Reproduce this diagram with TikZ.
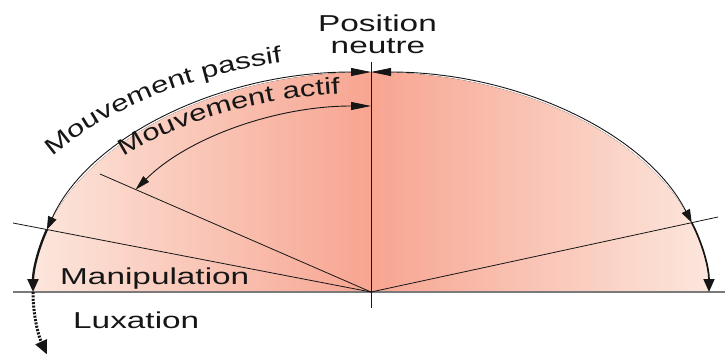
\documentclass[tikz,border=0pt]{standalone}
\usepackage{fontspec}
\setmainfont{Liberation Sans}
\newfontfamily\wideFont[FakeStretch=1.45]{Liberation Sans}
\newfontfamily\arcFont[FakeStretch=1.35]{Liberation Sans}
\usetikzlibrary{arrows.meta,decorations.text}
\definecolor{jtInk}{HTML}{161616}
\definecolor{jtSalmon}{HTML}{F7A591}
\definecolor{jtPale}{HTML}{FCE6DC}
\definecolor{jtBase}{HTML}{7A7A7A}
\tikzset{
 joint/.style={line cap=butt,line join=round,text=jtInk},
 lbl/.style={font=\wideFont\fontsize{23}{25}\selectfont,inner sep=0pt,text=jtInk},
 rim/.style={draw=jtInk,line width=.9pt},
 limit/.style={draw=jtInk,line width=.8pt},
 axisline/.style={draw=jtInk,line width=1pt},
 baseline/.style={draw=jtBase,line width=1.3pt},
 tipH/.tip={Triangle[length=20pt,width=8pt]},
 tipV/.tip={Triangle[length=13pt,width=9pt]},
 forced/.style={draw=jtInk,line width=2.3pt,-{Triangle[length=13pt,width=11pt]}},
 luxed/.style={draw=jtInk,line width=3pt,dash pattern=on 2pt off 1.4pt,-{Triangle[length=14pt,width=12pt]}},
 arctext/.style={decorate,decoration={text along path,text color=jtInk,text={|\arcFont\fontsize{23}{25}\selectfont|#1}}}
}

\begin{document}
\begin{tikzpicture}[joint,x=1pt,y=1pt]
 \useasboundingbox (-371,-62) rectangle (354,292);
 \coordinate (O) at (0,0);
 \coordinate (outerTop) at (90:338pt and 220pt);
 \coordinate (innerTop) at (90:282pt and 186pt);
 \coordinate (outerL) at (180:338pt and 220pt);
 \coordinate (outerR) at (0:338pt and 220pt);
 \coordinate (passX) at (163.5:338pt and 220pt);
 \coordinate (actX) at (146.6:282pt and 186pt);
 \coordinate (rightX) at (18.4:338pt and 220pt);
 \coordinate (passEnd) at (-358,69);
 \coordinate (actEnd) at (-271,118);
 \coordinate (rightEnd) at (347,75);
 \coordinate (axisTop) at (0,230);
 \coordinate (axisBot) at (0,-16);
 \coordinate (baseL) at (-358,0);
 \coordinate (baseR) at (354,0);
 \coordinate (passTxt) at (145:389pt and 236pt);
 \coordinate (actTxt) at (137.2:337pt and 199pt);
 % shaded half ellipse
 \fill[left color=jtPale,right color=jtPale,middle color=jtSalmon]
  (outerL) arc[start angle=180,end angle=0,x radius=338pt,y radius=220pt] -- cycle;
 \draw[baseline] (baseL) -- (baseR);
 \draw[axisline] (axisTop) -- (axisBot);
 \draw[limit] (passEnd) -- (O);
 \draw[limit] (actEnd) -- (O);
 \draw[limit] (O) -- (rightEnd);
 % ranges of motion
 \draw[rim,tipH-tipV] (outerTop) arc[start angle=90,end angle=163.5,x radius=338pt,y radius=220pt];
 \draw[rim,tipH-tipV] (outerTop) arc[start angle=90,end angle=18.4,x radius=338pt,y radius=220pt];
 \draw[rim,tipH-{Triangle[length=15pt,width=8pt]}] (innerTop) arc[start angle=90,end angle=146.6,x radius=282pt,y radius=186pt];
 \draw[forced] (passX) arc[start angle=163.5,end angle=180,x radius=338pt,y radius=220pt];
 \draw[forced,line width=1.7pt] (rightX) arc[start angle=18.4,end angle=0,x radius=338pt,y radius=220pt];
 \draw[luxed] (outerL) arc[start angle=180,end angle=196.5,x radius=338pt,y radius=220pt];
 % labels
 \node[lbl,anchor=base] (posA) at (6.5,260) {Position};
 \node[lbl,anchor=base] (posB) at (7,238.5) {neutre};
 \node[lbl,anchor=base west] (manip) at (-311,8) {Manipulation};
 \node[lbl,anchor=base west] (luxa) at (-298,-36) {Luxation};
 \path[arctext={Mouvement passif}] (passTxt) arc[start angle=145,end angle=80,x radius=389pt,y radius=236pt];
 \path[arctext={Mouvement actif}] (actTxt) arc[start angle=137.2,end angle=80,x radius=337pt,y radius=199pt];
\end{tikzpicture}
\end{document}
